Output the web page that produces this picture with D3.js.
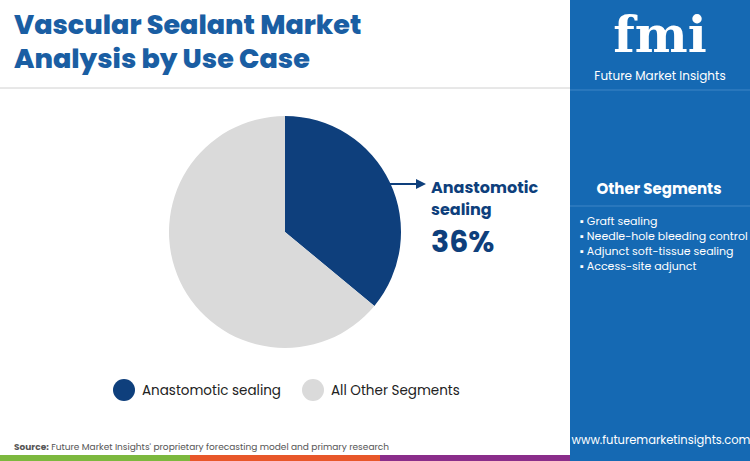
<!DOCTYPE html><html><head><meta charset="utf-8">
<script src="https://cdn.jsdelivr.net/npm/d3@7"></script>
<style>body{margin:0}svg{font-family:Poppins,"Open Sans",sans-serif}</style></head><body>
<svg id="c" width="750" height="461"></svg>
<script>
const categories=["Anastomotic sealing","All Other Segments"];
const values=[36,64];
const colors=["#0e3f7c","#dadada"];
const otherSegments=["Graft sealing","Needle-hole bleeding control","Adjunct soft-tissue sealing","Access-site adjunct"];
const svg=d3.select("#c");
svg.append("rect").attr("width",750).attr("height",461).attr("fill","#fff");
svg.append("text").attr("x",14).attr("y",34).attr("font-size",27).attr("font-weight",800).attr("fill","#1a5ea3").text("Vascular Sealant Market");
svg.append("text").attr("x",14).attr("y",68).attr("font-size",27).attr("font-weight",800).attr("fill","#1a5ea3").text("Analysis by Use Case");
svg.append("line").attr("x1",0).attr("x2",570).attr("y1",88).attr("y2",88).attr("stroke","#d0d0d0");
// panel
svg.append("rect").attr("x",570).attr("y",0).attr("width",180).attr("height",461).attr("fill","#1569b3");
svg.append("text").attr("x",660).attr("y",52).attr("text-anchor","middle").attr("font-size",50).attr("font-weight",700).attr("font-family","DejaVu Serif").attr("fill","#fff").text("fmi");
svg.append("text").attr("x",660).attr("y",80).attr("text-anchor","middle").attr("font-size",12).attr("fill","#fff").text("Future Market Insights");
svg.append("line").attr("x1",570).attr("x2",750).attr("y1",90).attr("y2",90).attr("stroke","#3f86c6");
svg.append("text").attr("x",659).attr("y",194).attr("text-anchor","middle").attr("font-size",15).attr("font-weight",700).attr("fill","#fff").text("Other Segments");
svg.append("line").attr("x1",570).attr("x2",750).attr("y1",206).attr("y2",206).attr("stroke","#3f86c6");
otherSegments.forEach((s,i)=>{
 svg.append("text").attr("x",580).attr("y",225+i*15).attr("font-size",11).attr("fill","#fff").text("▪  "+s);
});
svg.append("text").attr("x",661).attr("y",444).attr("text-anchor","middle").attr("font-size",11.5).attr("fill","#fff").text("www.futuremarketinsights.com");
// stripes
[["#7cb83e",0],["#e8572a",190],["#8a2d8a",380]].forEach(([c,x])=>svg.append("rect").attr("x",x).attr("y",455).attr("width",190).attr("height",6).attr("fill",c));
svg.append("text").attr("x",14).attr("y",450).attr("font-size",9).attr("fill","#555").html('<tspan font-weight="700">Source:</tspan> Future Market Insights\' proprietary forecasting model and primary research');
// pie
const pie=d3.pie().sort(null)(values);
const arc=d3.arc().innerRadius(0).outerRadius(116);
const g=svg.append("g").attr("transform","translate(285,232)");
g.selectAll("path").data(pie).join("path").attr("d",arc).attr("fill",(d,i)=>colors[i]);
// callout
svg.append("line").attr("x1",390).attr("x2",418).attr("y1",184).attr("y2",184).attr("stroke","#0e3f7c").attr("stroke-width",2);
svg.append("path").attr("d","M416,179 L426,184 L416,189Z").attr("fill","#0e3f7c");
svg.append("text").attr("x",431).attr("y",193).attr("font-size",16).attr("font-weight",700).attr("fill","#0e3f7c").text("Anastomotic");
svg.append("text").attr("x",431).attr("y",215).attr("font-size",16).attr("font-weight",700).attr("fill","#0e3f7c").text("sealing");
svg.append("text").attr("x",431).attr("y",252).attr("font-size",30).attr("font-weight",700).attr("fill","#0e3f7c").text(values[0]+"%");
// legend
const lx=[124,313];
categories.forEach((c,i)=>{
 svg.append("circle").attr("cx",lx[i]).attr("cy",390).attr("r",11).attr("fill",colors[i]);
 svg.append("text").attr("x",lx[i]+18).attr("y",395).attr("font-size",13.5).attr("fill","#222").text(c);
});
</script></body></html>
